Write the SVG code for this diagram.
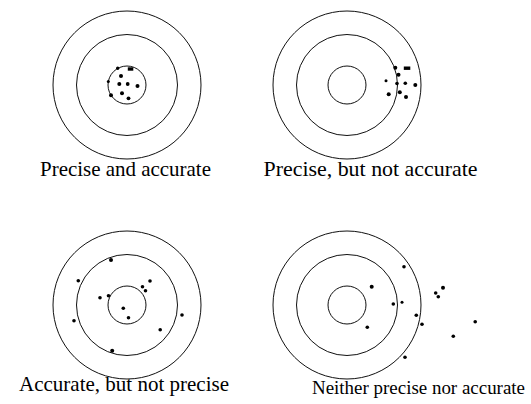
<svg xmlns="http://www.w3.org/2000/svg" width="531" height="404" viewBox="0 0 531 404">
<style>
.ring{fill:none;stroke:#111;stroke-width:1}
.hit{fill:#000}
.lbl{font-family:"Liberation Serif","Times New Roman",serif;font-size:21px;fill:#000;text-anchor:middle}
</style>
<rect width="531" height="404" fill="#fff"/>
<g id="target-precise-accurate">
<circle class="ring" cx="127" cy="85" r="74"/>
<circle class="ring" cx="127" cy="85" r="50.5"/>
<circle class="ring" cx="127" cy="85" r="19"/>
<g class="hit">
<circle cx="117.7" cy="68.3" r="1.7"/><rect x="127.8" y="67.3" width="5.5" height="3.4"/><circle cx="121" cy="76" r="2"/>
<circle cx="108.3" cy="81.5" r="1.5"/><circle cx="119.3" cy="84" r="2"/><circle cx="127.7" cy="84" r="1.9"/>
<circle cx="137.5" cy="86" r="2"/><circle cx="111" cy="95.3" r="2"/><circle cx="122" cy="93.3" r="2"/>
<circle cx="128.5" cy="98.3" r="1.9"/>
</g>
<text class="lbl" x="125.5" y="176" textLength="171" lengthAdjust="spacingAndGlyphs">Precise and accurate</text>
</g>
<g id="target-precise-not-accurate">
<circle class="ring" cx="347" cy="85" r="74"/>
<circle class="ring" cx="347" cy="85" r="50.5"/>
<circle class="ring" cx="347" cy="85" r="19"/>
<g class="hit">
<circle cx="395.3" cy="67.7" r="2"/><rect x="403.8" y="66.5" width="6.5" height="3.4"/><circle cx="398.5" cy="74.8" r="2"/>
<circle cx="386" cy="80.8" r="1.5"/><circle cx="397" cy="83.5" r="1.8"/><circle cx="405.3" cy="83.2" r="1.8"/>
<circle cx="415.3" cy="85" r="2"/><circle cx="388.7" cy="94.3" r="2"/><circle cx="399.8" cy="92.2" r="2"/>
<circle cx="406" cy="97" r="2"/>
</g>
<text class="lbl" x="370.5" y="176" textLength="214" lengthAdjust="spacingAndGlyphs">Precise, but not accurate</text>
</g>
<g id="target-accurate-not-precise">
<circle class="ring" cx="127" cy="305" r="74"/>
<circle class="ring" cx="127" cy="305" r="50.5"/>
<circle class="ring" cx="127" cy="305" r="19"/>
<g class="hit">
<circle cx="111" cy="260" r="2"/><circle cx="78.3" cy="280.7" r="1.8"/><circle cx="150" cy="281" r="1.8"/>
<circle cx="142.5" cy="286.7" r="1.8"/><circle cx="145.5" cy="290.7" r="1.8"/><circle cx="100" cy="297.7" r="1.8"/>
<circle cx="108.5" cy="295.7" r="1.8"/><circle cx="123.3" cy="308.3" r="1.8"/><circle cx="128.5" cy="317.7" r="1.8"/>
<circle cx="74" cy="320.7" r="1.8"/><circle cx="182" cy="315" r="1.8"/><circle cx="160.2" cy="329.7" r="1.8"/>
<circle cx="112.2" cy="350.8" r="2"/>
</g>
<text class="lbl" x="124" y="391" textLength="210" lengthAdjust="spacingAndGlyphs">Accurate, but not precise</text>
</g>
<g id="target-neither">
<circle class="ring" cx="347" cy="305" r="74"/>
<circle class="ring" cx="347" cy="305" r="50.5"/>
<circle class="ring" cx="347" cy="305" r="19"/>
<g class="hit">
<circle cx="404" cy="266.7" r="1.8"/><circle cx="371.7" cy="286.7" r="2"/><circle cx="443" cy="287.7" r="2"/>
<circle cx="435.7" cy="293" r="1.8"/><circle cx="438.3" cy="296.7" r="1.8"/><circle cx="393.3" cy="304" r="1.8"/>
<circle cx="402" cy="302.3" r="1.5"/><circle cx="416.3" cy="315.2" r="1.8"/><circle cx="422" cy="324.3" r="1.8"/>
<circle cx="475.2" cy="321.7" r="1.8"/><circle cx="367.3" cy="327.3" r="1.8"/><circle cx="453.3" cy="336.2" r="1.8"/>
<circle cx="405" cy="357.2" r="1.8"/>
</g>
<text class="lbl" x="418.5" y="394" style="font-size:19.5px" textLength="213" lengthAdjust="spacingAndGlyphs">Neither precise nor accurate</text>
</g>
<g id="connectors"/>
</svg>
